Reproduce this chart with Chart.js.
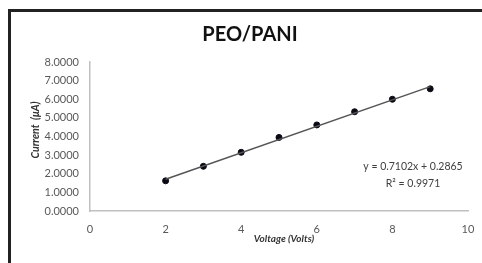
<!DOCTYPE html>
<html>
<head>
<meta charset="utf-8">
<script src="https://cdn.jsdelivr.net/npm/chart.js@4"></script>
<style>
  html, body { margin: 0; padding: 0; background: #fff; }
  #wrap { position: relative; width: 482px; height: 263px; overflow: hidden; }
  #chart { position: absolute; left: 0; top: 0; }
  #frame {
    position: absolute; left: 8px; top: 9px; right: -5px; bottom: -5px;
    border-top: 3px solid #222; border-left: 3px solid #222;
    pointer-events: none;
  }
</style>
</head>
<body>
<div id="wrap">
  <canvas id="chart" width="482" height="263"></canvas>
  <div id="frame"></div>
</div>
<script>
// voltage (V) and measured current (uA)
const voltages = [2, 3, 4, 5, 6, 7, 8, 9]
const currents = [1.62, 2.40, 3.15, 3.95, 4.62, 5.33, 6.00, 6.56]

// linear trendline as printed on the chart
const slope = 0.7102
const intercept = 0.2865
const rSquared = 0.9971
const trendX = [2, 9]

const xTicks = [0, 2, 4, 6, 8, 10]
const yTicks = [0, 1, 2, 3, 4, 5, 6, 7, 8]

const chartTitle = "PEO/PANI"
const xTitle = "Voltage (Volts)"
const yTitle = "Current  (\u03BCA)"

const points = voltages.map((v, i) => ({ x: v, y: currents[i] }))
const trend = trendX.map(x => ({ x, y: slope * x + intercept }))

const labelsPlugin = {
  id: "labels",
  afterDraw(chart) {
    const { ctx, chartArea } = chart
    ctx.save()
    ctx.textAlign = "center"
    ctx.textBaseline = "middle"

    ctx.fillStyle = "#111"
    ctx.font = "bold 20px Lato"
    ctx.fillText(chartTitle, 250, 35)

    ctx.fillStyle = "#333"
    ctx.font = "italic bold 10px Lato"
    ctx.fillText(xTitle, 284, 239)

    ctx.save()
    ctx.translate(36, 130)
    ctx.rotate(-Math.PI / 2)
    ctx.font = "italic bold 10.5px Lato"
    ctx.fillText(yTitle, 0, 0)
    ctx.restore()

    ctx.fillStyle = "#404040"
    ctx.font = "10.5px Lato"
    const ex = chartArea.right - 55
    ctx.fillText(`y = ${slope}x + ${intercept}`, ex, 167)
    ctx.fillText(`R\u00B2 = ${rSquared}`, ex, 184)
    ctx.restore()
  }
}

new Chart(document.getElementById("chart"), {
  type: "scatter",
  data: {
    datasets: [
      {
        type: "line",
        data: trend,
        borderColor: "#555",
        borderWidth: 1.5,
        pointRadius: 0,
        fill: false,
      },
      {
        data: points,
        backgroundColor: "#0a0a14",
        borderColor: "#0a0a14",
        pointRadius: 3,
        pointHoverRadius: 3,
      }
    ]
  },
  options: {
    responsive: false,
    animation: false,
    layout: { padding: { left: 0, top: 62, right: 14, bottom: 0 } },
    plugins: {
      legend: { display: false },
      title: { display: false },
      tooltip: { enabled: false }
    },
    scales: {
      x: {
        type: "linear",
        min: 0,
        max: 10,
        afterBuildTicks: (s) => { s.ticks = xTicks.map(v => ({ value: v })) },
        grid: { display: false, drawTicks: false },
        border: { display: true, color: "#c0c0c0", width: 1.5 },
        ticks: { color: "#595959", font: { family: "Lato", size: 11 }, padding: 12 },
        afterFit: (s) => {
          s.height = 52
          s.paddingLeft = 0
          s.paddingRight = 0
        }
      },
      y: {
        type: "linear",
        min: 0,
        max: 8,
        afterBuildTicks: (s) => { s.ticks = yTicks.map(v => ({ value: v })) },
        grid: { display: false, drawTicks: false },
        border: { display: true, color: "#c0c0c0", width: 1.5 },
        ticks: {
          color: "#595959",
          font: { family: "Lato", size: 11 },
          padding: 11,
          callback: (v) => v.toFixed(4)
        },
        afterFit: (s) => {
          s.width = 90
          s.paddingTop = 0
          s.paddingBottom = 0
        }
      }
    }
  },
  plugins: [labelsPlugin]
})
</script>
</body>
</html>
